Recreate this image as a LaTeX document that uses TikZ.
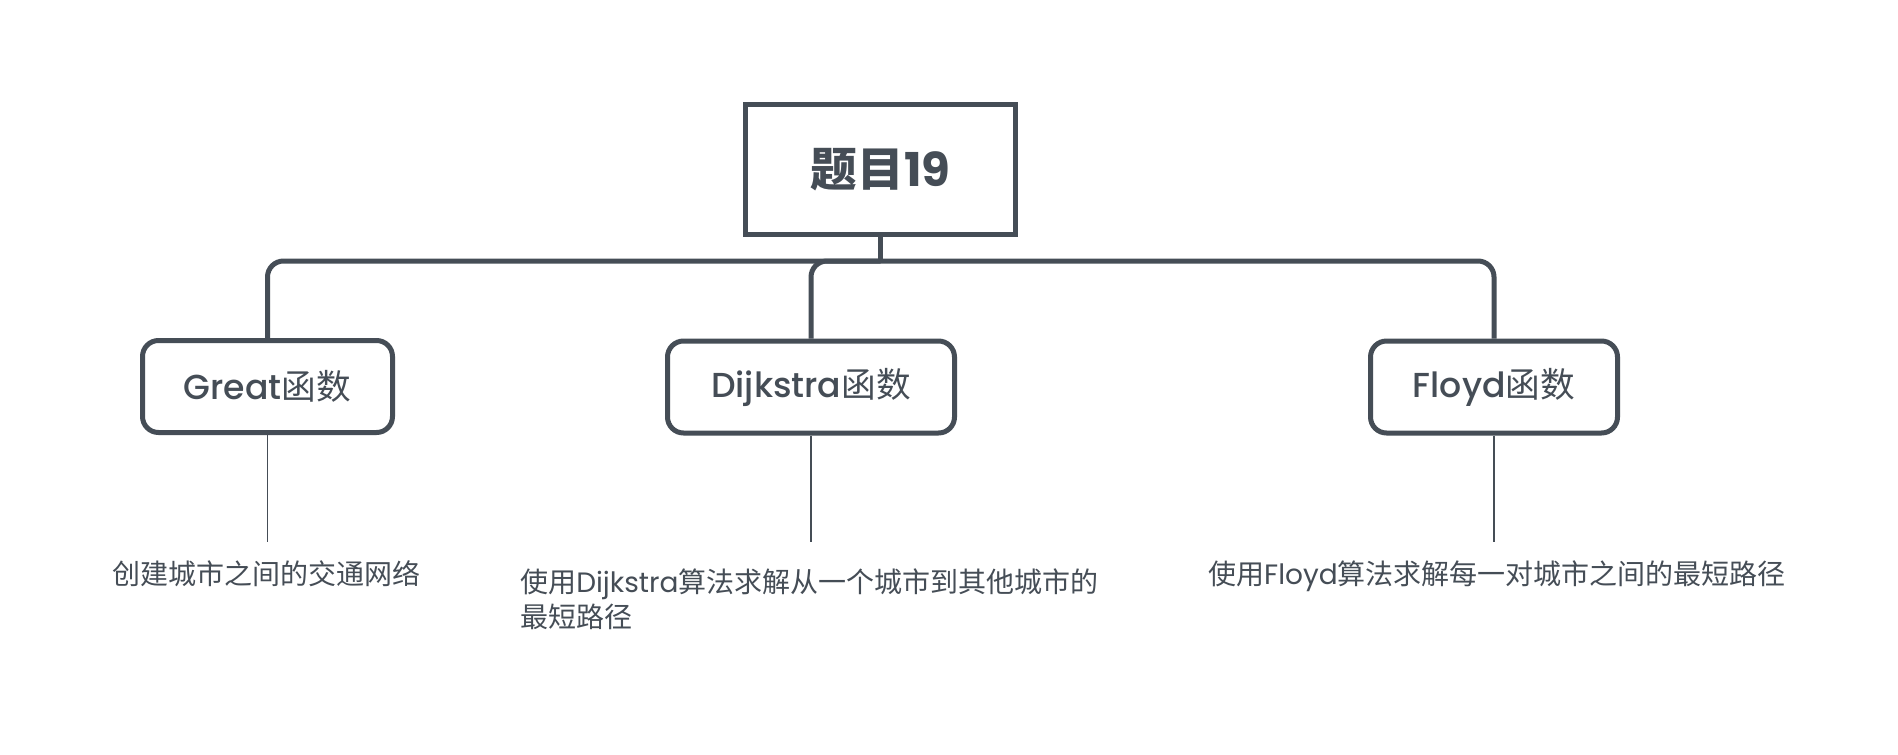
\documentclass[tikz,border=0pt]{standalone}
\usepackage{fontspec}
\setmainfont{Poppins}
\newfontfamily\popmed{Poppins Medium}
\newfontfamily\cjk{Noto Sans CJK SC}
\definecolor{ink}{RGB}{69,77,86}
\tikzset{
  box/.style={draw=ink, line width=3.75pt, text=ink, align=center, inner sep=0pt, fill=white},
  rootbox/.style={box, minimum width=202.5pt, minimum height=97.5pt, font=\bfseries\fontsize{35}{40}\selectfont},
  fbox/.style={box, rounded corners=12pt, minimum height=69pt, font=\popmed\fontsize{26}{30}\selectfont},
  conn/.style={draw=ink, line width=3.75pt, rounded corners=12pt},
  thinline/.style={draw=ink, line width=1.1pt},
  desc/.style={text=ink, font=\fontsize{21}{26.25}\selectfont, inner sep=0pt}
}
\begin{document}
\begin{tikzpicture}[x=0.75pt,y=-0.75pt]
\fill[white] (0,0) rectangle (1898,754);
\useasboundingbox (0,0) rectangle (1898,754);
\coordinate (bar) at (880.5,261);
\node[rootbox] (root) at (880.5,169.5) {{\cjk 题目}19};
\node[fbox, minimum width=187.5pt] (great) at (267.5,386.5) {Great{\cjk 函数}};
\node[fbox, minimum width=215.25pt] (dij) at (811,387) {Dijkstra{\cjk 函数}};
\node[fbox, minimum width=185.25pt] (floyd) at (1494,387) {Floyd{\cjk 函数}};
\draw[conn] (root.south) -- (bar);
\draw[conn] (great.north) |- (floyd.north |- bar) -- (floyd.north);
\draw[conn] (bar) -| (dij.north);
\coordinate (g1) at (267.5,542);
\coordinate (d1) at (811,542);
\coordinate (f1) at (1494,542);
\draw[thinline] (great.south) -- (g1);
\draw[thinline] (dij.south) -- (d1);
\draw[thinline] (floyd.south) -- (f1);
\node[desc, anchor=base] (gdesc) at (266,584) {\cjk 创建城市之间的交通网络};
\node[desc, anchor=north west, align=left] (ddesc) at (520,568) {{\cjk 使用}Dijkstra{\cjk 算法求解从一个城市到其他城市的}\\{\cjk 最短路径}};
\node[desc, anchor=base] (fdesc) at (1497,584) {{\cjk 使用}Floyd{\cjk 算法求解每一对城市之间的最短路径}};
\end{tikzpicture}
\end{document}
